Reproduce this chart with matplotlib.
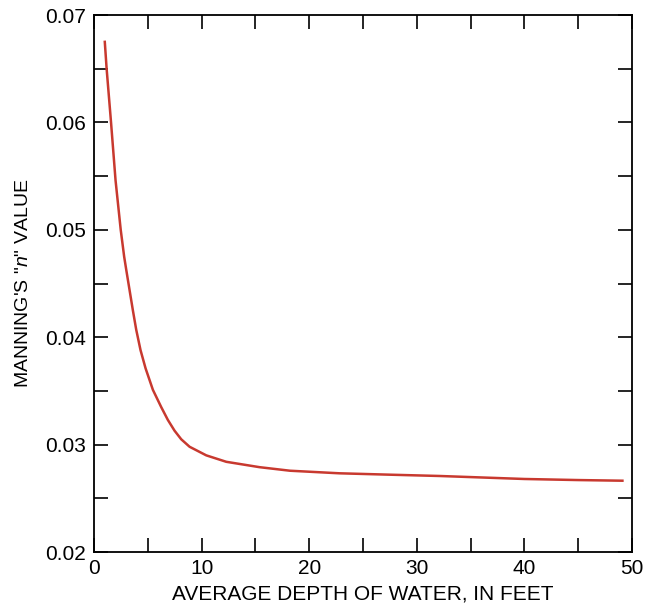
import matplotlib
matplotlib.use("Agg")
import matplotlib.pyplot as plt
from matplotlib.ticker import MultipleLocator

plt.rcParams["font.family"] = ["Liberation Sans", "DejaVu Sans"]
plt.rcParams["mathtext.fontset"] = "custom"
plt.rcParams["mathtext.it"] = "Liberation Sans:italic"
plt.rcParams["mathtext.rm"] = "Liberation Sans"

# values
depth = [1.0, 1.17, 1.58, 2.0, 2.48, 2.8, 2.99, 3.30, 3.61, 3.92, 4.32, 4.79,
         5.47, 6.24, 6.86, 7.48, 8.1, 8.88, 10.43, 12.29, 15.38, 18.2, 22.8,
         27.5, 32.1, 40.0, 45.0, 49.1]
manning_n = [0.0675, 0.0650, 0.0600, 0.0546, 0.0500, 0.0475, 0.0463, 0.0444,
             0.0425, 0.0407, 0.0388, 0.0371, 0.0351, 0.0335, 0.0323, 0.0313,
             0.0305, 0.0298, 0.0290, 0.0284, 0.0279, 0.02757, 0.02733,
             0.0272, 0.02708, 0.0268, 0.0267, 0.02664]

fig = plt.figure(figsize=(6.53, 6.15), dpi=100)
ax = fig.add_axes([0.144, 0.1024, 0.824, 0.8732])

ax.plot(depth, manning_n, color="#c8392f", linewidth=1.8,
        solid_joinstyle="round")

ax.set_xlim(0, 50)
ax.set_ylim(0.02, 0.07)
ax.xaxis.set_major_locator(MultipleLocator(10))
ax.xaxis.set_minor_locator(MultipleLocator(5))
ax.yaxis.set_major_locator(MultipleLocator(0.01))
ax.yaxis.set_minor_locator(MultipleLocator(0.005))
ax.yaxis.set_major_formatter(plt.FuncFormatter(lambda v, p: f"{v:.2f}"))

ax.tick_params(which="both", direction="in", top=True, right=True,
               length=10, width=1.2, labelsize=15, colors="black")
ax.tick_params(axis="x", pad=5)
ax.tick_params(axis="y", pad=6)
for s in ax.spines.values():
    s.set_linewidth(1.3)

ax.set_xlabel("AVERAGE DEPTH OF WATER, IN FEET", fontsize=15, labelpad=5)
ax.set_ylabel("MANNING'S \"$\\mathit{n}$\" VALUE", fontsize=14, labelpad=9)

fig.savefig("out.png", dpi=100)
